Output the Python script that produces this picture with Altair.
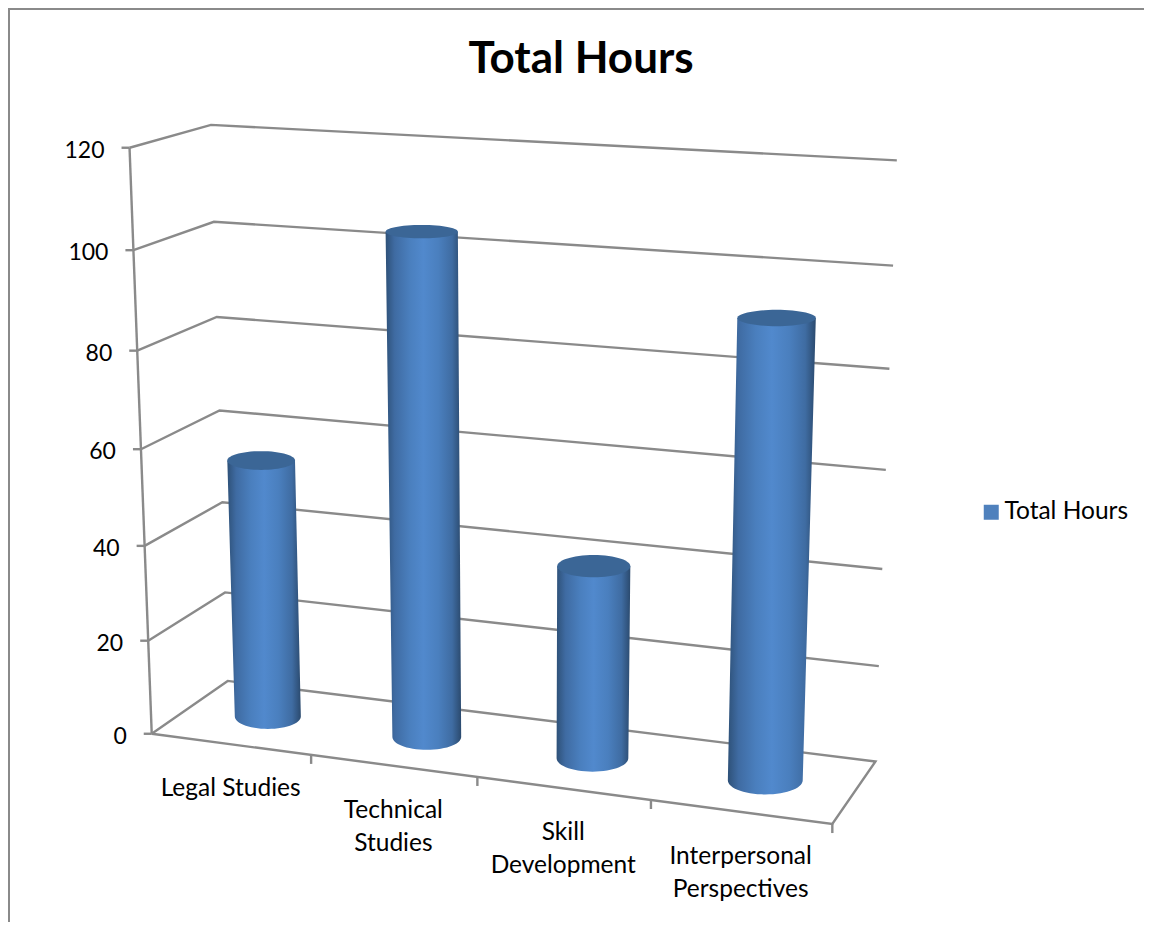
import altair as alt
import numpy as np
import pandas as pd

# ---- chart values -------------------------------------------------------
categories = ["Legal Studies", "Technical\nStudies", "Skill\nDevelopment", "Interpersonal\nPerspectives"]
hours = [55, 104, 40, 92]
value_ticks = [0, 20, 40, 60, 80, 100, 120]
series_name = "Total Hours"

# ---- oblique box the reference chart is drawn in: (across, depth, value) -> picture
front_left_y = [733, 640, 545, 450, 350, 249, 149]
front_left_x = [152, 148, 144, 140, 138, 134, 130]
back_left_y = [681, 596, 502, 410, 316, 222, 125]
back_left_x = [228, 226, 222, 219, 217, 214, 210]
back_right_y = [759, 666, 569, 470, 369, 266, 160]
back_right_x = [875, 879, 883, 886, 889, 893, 897]
front_right_corner = (832, 826)
RADIUS_U, RADIUS_D = 0.053, 0.23
DEPTH_C = 0.5

GRID = "#8a8a8a"
BLUE = "#4f81bd"
CAP = "#3b6696"
FONT = "Lato"
TXT = "#000000"

box_world, box_pict = [], []
for k, v in enumerate(value_ticks):
    box_world += [(0, 0, v), (0, 1, v), (1, 1, v)]
    box_pict += [(front_left_x[k], front_left_y[k]), (back_left_x[k], back_left_y[k]), (back_right_x[k], back_right_y[k])]
box_world.append((1, 0, 0))
box_pict.append(front_right_corner)


def fit_camera(world, pict):
    weights = np.ones(len(world))
    for _ in range(8):
        A, b = [], []
        for (u, d, v), (x, y), s in zip(world, pict, weights):
            w = v / 120
            A.append([s * c for c in [u, d, w, 1, 0, 0, 0, 0, -x * u, -x * d, -x * w]]); b.append(s * x)
            A.append([s * c for c in [0, 0, 0, 0, u, d, w, 1, -y * u, -y * d, -y * w]]); b.append(s * y)
        p = np.linalg.lstsq(np.array(A, float), np.array(b, float), rcond=None)[0]
        M = np.append(p, 1).reshape(3, 4)
        weights = np.array([1 / (M[2] @ np.array([u, d, v / 120, 1.0])) for u, d, v in world])
    return M


CAM = fit_camera(box_world, box_pict)


def proj(u, d, v):
    q = CAM @ np.array([u, d, v / 120, 1.0])
    return q[0] / q[2], q[1] / q[2]


# grid lines
rows = []
def add_path(name, pts):
    for i, (u, d, v) in enumerate(pts):
        x, y = proj(u, d, v)
        rows.append({"path": name, "seq": i, "x": x, "y": y})

for v in value_ticks[1:]:
    add_path(f"g{v}", [(0, 0, v), (0, 1, v), (1, 1, v)])
add_path("floor", [(0, 0, 0), (0, 1, 0), (1, 1, 0), (1, 0, 0), (0, 0, 0)])
add_path("axis", [(0, 0, 0), (0, 0, 120)])
for v in value_ticks:
    x, y = proj(0, 0, v)
    rows += [{"path": f"t{v}", "seq": 0, "x": x - 8, "y": y}, {"path": f"t{v}", "seq": 1, "x": x, "y": y}]
for k in range(1, 5):
    x, y = proj(k / 4, 0, 0)
    rows += [{"path": f"c{k}", "seq": 0, "x": x, "y": y}, {"path": f"c{k}", "seq": 1, "x": x, "y": y + 9}]
grid_df = pd.DataFrame(rows)

# cylinders
body_rows, cap_rows, anchor_rows = [], [], []
for i, (cat, val) in enumerate(zip(categories, hours)):
    uc = (i + 0.5) / 4

    def ellipse(v):
        cx, cy = proj(uc, DEPTH_C, v)
        a = (proj(uc + RADIUS_U, DEPTH_C, v)[0] - proj(uc - RADIUS_U, DEPTH_C, v)[0]) / 2
        b = abs(proj(uc, DEPTH_C + RADIUS_D, v)[1] - proj(uc, DEPTH_C - RADIUS_D, v)[1]) / 2
        return cx, cy, a, b

    cxt, cyt, at, bt = ellipse(val)
    cxb, cyb, ab, bb = ellipse(0)
    anchor_rows.append({"x": cxt, "y": cyt, "series": series_name})
    for y in np.arange(cyt, cyb, 4.0):
        f = (y - cyt) / (cyb - cyt)
        body_rows.append({"bar": i, "y": y, "x": cxt - at + f * (cxb - ab - cxt + at), "x2": cxt + at + f * (cxb + ab - cxt - at)})
    for t in np.linspace(0, np.pi / 2, 16):
        w = ab * np.cos(t)
        body_rows.append({"bar": i, "y": cyb + bb * np.sin(t), "x": cxb - w, "x2": cxb + w})
    for t in np.linspace(-np.pi / 2, np.pi / 2, 31):
        w = at * np.cos(t)
        cap_rows.append({"bar": i, "y": cyt + bt * np.sin(t), "x": cxt - w, "x2": cxt + w})
body_df = pd.DataFrame(body_rows)
cap_df = pd.DataFrame(cap_rows)
anchor_df = pd.DataFrame(anchor_rows)

# text positions
val_df = pd.DataFrame([{"label": str(v), "x": proj(0, 0, v)[0], "y": proj(0, 0, v)[1]} for v in value_ticks])
cat_rows = []
for i, cat in enumerate(categories):
    x, y = proj((i + 0.5) / 4, 0, 0)
    cat_rows.append({"label": cat, "x": x, "y": y})
cat_df = pd.DataFrame(cat_rows)

# border (reference: top and left edge of the frame only)
border_df = pd.DataFrame([{"seq": 0, "x": 9, "y": 922}, {"seq": 1, "x": 9, "y": 9}, {"seq": 2, "x": 1144, "y": 9}])

W, H = 1136, 914
X = alt.X("x:Q", axis=None, scale=alt.Scale(domain=[8, 8 + W], zero=False, nice=False))
Y = alt.Y("y:Q", axis=None, scale=alt.Scale(domain=[8 + H, 8], zero=False, nice=False))

border = alt.Chart(border_df).mark_line(color=GRID, strokeWidth=2).encode(x=X, y=Y, order="seq:Q")
grid = alt.Chart(grid_df).mark_line(color=GRID, strokeWidth=2.4).encode(x=X, y=Y, detail="path:N", order="seq:Q")
legend_anchor = alt.Chart(anchor_df).mark_square(size=1, opacity=1).encode(
    x=X, y=Y,
    color=alt.Color("series:N", scale=alt.Scale(domain=[series_name], range=[BLUE]),
                    legend=alt.Legend(title=None, orient="none", legendX=971, legendY=492,
                                      symbolSize=225, symbolType="square", symbolStrokeWidth=0,
                                      labelFont=FONT, labelFontSize=24.5, labelColor=TXT, labelOffset=1,
                                      labelLimit=300)),
)
gradient = alt.Gradient(gradient="linear", x1=0, x2=1, y1=0, y2=0, stops=[
    alt.GradientStop(offset=0, color="#2e5178"),
    alt.GradientStop(offset=0.12, color="#3f6ba2"),
    alt.GradientStop(offset=0.32, color="#4a7fbe"),
    alt.GradientStop(offset=0.5, color="#5189cd"),
    alt.GradientStop(offset=0.7, color="#4a7fbe"),
    alt.GradientStop(offset=0.88, color="#3f6ca2"),
    alt.GradientStop(offset=1, color="#2b4a6e"),
])
bodies = alt.Chart(body_df).mark_area(orient="horizontal", color=gradient, line=False).encode(
    y=Y, x=X, x2="x2:Q", detail="bar:N")
caps = alt.Chart(cap_df).mark_area(orient="horizontal", color=CAP).encode(
    y=Y, x=X, x2="x2:Q", detail="bar:N")
val_text = alt.Chart(val_df).mark_text(align="right", baseline="middle", font=FONT, fontSize=23, color=TXT, dx=-25, dy=3).encode(
    x=X, y=Y, text="label:N")
cat_text = alt.Chart(cat_df).mark_text(align="center", baseline="top", font=FONT, fontSize=24.5, color=TXT, lineBreak="\n", lineHeight=33, dy=33).encode(
    x=X, y=Y, text="label:N")

chart = alt.layer(border, grid, legend_anchor, bodies, caps, val_text, cat_text).properties(
    width=W, height=H, padding=0, autosize=alt.AutoSizeParams(type="none"),
    title=alt.TitleParams(series_name, font=FONT, fontSize=44, fontWeight="bold", color=TXT, anchor="middle", dx=5, dy=125, baseline="bottom"),
).configure_view(stroke=None)

chart.save("out.html", embed_options={"renderer": "svg", "actions": False})
